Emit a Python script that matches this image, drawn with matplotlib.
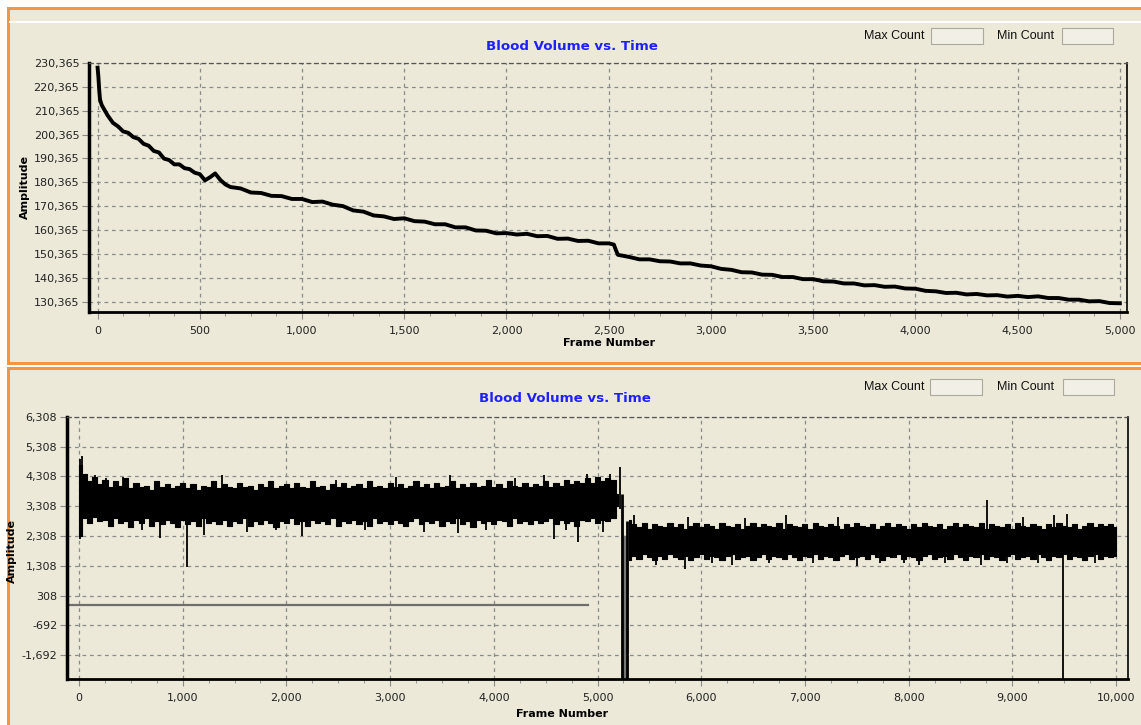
import matplotlib
matplotlib.use("Agg")
import matplotlib.pyplot as plt
from matplotlib.patches import Rectangle
from matplotlib.lines import Line2D
from matplotlib.ticker import MultipleLocator, FuncFormatter

# ---- top panel: slowly decaying blood volume ----
top_frames = [0, 4, 8, 12, 20, 35, 50, 75, 100, 125, 150, 175, 200, 225, 250, 275,
              300, 325, 350, 375, 400, 425, 450, 475, 500, 525, 550, 575, 600, 625,
              650, 700, 750, 800, 850, 900, 950, 1000, 1050, 1100, 1150, 1200, 1250,
              1300, 1350, 1400, 1450, 1500, 1550, 1600, 1650, 1700, 1750, 1800, 1850,
              1900, 1950, 2000, 2050, 2100, 2150, 2200, 2250, 2300, 2350, 2400, 2450,
              2500, 2525, 2535, 2545, 2600, 2650, 2700, 2750, 2800, 2850, 2900, 2950,
              3000, 3050, 3100, 3150, 3200, 3250, 3300, 3350, 3400, 3450, 3500, 3550,
              3600, 3650, 3700, 3750, 3800, 3850, 3900, 3950, 4000, 4050, 4100, 4150,
              4200, 4250, 4300, 4350, 4400, 4450, 4500, 4550, 4600, 4650, 4700, 4750,
              4800, 4850, 4900, 4950, 5000]
top_values = [228400, 224500, 219000, 215000, 212800, 210500, 208300, 205300, 203800,
              201700, 201100, 199300, 198600, 196500, 195700, 193500, 192900, 190300,
              189700, 187900, 187900, 186300, 185900, 184400, 183800, 181200, 182500,
              184100, 181400, 179500, 178400, 177800, 176100, 175900, 174700, 174600,
              173400, 173400, 172100, 172300, 171000, 170400, 168600, 168100, 166500,
              166100, 165000, 165300, 164100, 163900, 162800, 162800, 161500, 161500,
              160200, 160100, 159000, 159100, 158500, 158800, 157800, 157900, 156700,
              156800, 155800, 155900, 154800, 154800, 154300, 152000, 150000, 149100,
              148100, 148100, 147300, 147200, 146400, 146400, 145500, 145200, 144100,
              143700, 142700, 142600, 141700, 141600, 140700, 140700, 139800, 139800,
              138900, 138800, 138000, 138000, 137200, 137300, 136600, 136700, 135900,
              135800, 134900, 134700, 134000, 134100, 133400, 133600, 133000, 133100,
              132500, 132800, 132300, 132600, 131900, 131900, 131200, 131200, 130500,
              130600, 129800, 129700]

# ---- bottom panel: noisy amplitude band, envelopes read every 50 frames ----
band1_frames = list(range(0, 5250, 50))
band1_upper = [4700, 4400, 4150, 4300, 4050, 4200, 3950, 4150, 4000, 4250,
               3900, 4100, 3950, 4000, 3850, 4150, 3950, 4050, 3900, 4000,
               4100, 3900, 4050, 3850, 4000, 3950, 4150, 3900, 4050, 3950,
               3900, 4100, 3950, 4000, 3850, 4050, 3950, 4150, 3900, 4000,
               4050, 3900, 4100, 3950, 3900, 4150, 3950, 4000, 3850, 4050,
               3950, 4100, 3900, 4000, 4050, 3900, 4150, 3950, 4000, 3900,
               4100, 3950, 4050, 3900, 4000, 4150, 3950, 4050, 3900, 4100,
               3950, 4000, 4150, 3900, 4050, 3950, 4100, 3950, 4000, 4200,
               3950, 4050, 3900, 4150, 4000, 3950, 4100, 3950, 4050, 4000,
               4150, 3950, 4100, 4000, 4200, 4050, 4150, 4100, 4250, 4100,
               4300, 4150, 4250, 4200, 3700]
band1_lower = [2300, 2900, 2750, 2950, 2800, 2850, 2650, 2900, 2750, 2800,
               2600, 2850, 2750, 2900, 2650, 2800, 2700, 2850, 2750, 2600,
               2850, 2700, 2800, 2650, 2900, 2750, 2800, 2700, 2850, 2650,
               2800, 2750, 2900, 2650, 2800, 2700, 2850, 2750, 2600, 2800,
               2750, 2900, 2700, 2800, 2650, 2850, 2750, 2800, 2700, 2900,
               2650, 2800, 2750, 2850, 2700, 2800, 2650, 2900, 2750, 2800,
               2700, 2850, 2750, 2650, 2800, 2900, 2700, 2800, 2750, 2850,
               2650, 2800, 2750, 2900, 2700, 2800, 2600, 2850, 2750, 2800,
               2700, 2850, 2800, 2650, 2900, 2750, 2800, 2700, 2850, 2750,
               2800, 2900, 2700, 2850, 2750, 2800, 2650, 2850, 2800, 2900,
               2750, 2850, 2800, 2900, 3300]
band2_frames = list(range(5300, 10050, 50))
band2_upper = [2850, 2700, 2600, 2750, 2550, 2700, 2650, 2600, 2750, 2600,
               2700, 2550, 2650, 2750, 2600, 2700, 2650, 2550, 2750, 2650,
               2600, 2700, 2550, 2650, 2750, 2600, 2700, 2650, 2600, 2750,
               2550, 2700, 2650, 2600, 2700, 2550, 2750, 2650, 2600, 2700,
               2650, 2550, 2700, 2600, 2750, 2650, 2600, 2700, 2550, 2650,
               2750, 2600, 2700, 2650, 2550, 2700, 2600, 2750, 2650, 2600,
               2700, 2550, 2650, 2750, 2600, 2700, 2650, 2600, 2750, 2550,
               2700, 2650, 2600, 2700, 2550, 2750, 2650, 2600, 2700, 2650,
               2550, 2700, 2600, 2750, 2650, 2600, 2700, 2550, 2650, 2750,
               2600, 2700, 2650, 2700, 2600]
band2_lower = [1500, 1650, 1550, 1700, 1600, 1500, 1650, 1550, 1700, 1600,
               1550, 1650, 1500, 1600, 1700, 1550, 1650, 1600, 1500, 1650,
               1700, 1550, 1600, 1650, 1500, 1600, 1700, 1550, 1650, 1600,
               1550, 1700, 1600, 1500, 1650, 1600, 1700, 1550, 1650, 1600,
               1500, 1650, 1700, 1550, 1600, 1650, 1550, 1700, 1600, 1500,
               1650, 1600, 1700, 1550, 1650, 1600, 1500, 1650, 1700, 1550,
               1600, 1650, 1550, 1700, 1600, 1500, 1650, 1600, 1700, 1550,
               1650, 1600, 1500, 1650, 1700, 1550, 1600, 1650, 1550, 1700,
               1600, 1500, 1650, 1600, 1700, 1550, 1650, 1600, 1500, 1650,
               1700, 1550, 1650, 1600, 1650]

# isolated spikes: frame, low, high
spike_frames = [5, 30, 150, 260, 420, 610, 780, 1040, 1210, 1380, 1620, 1900, 2150,
                2480, 2760, 3060, 3330, 3580, 3650, 3920, 4200, 4480, 4580, 4700,
                4812, 4900, 5050, 5120, 5215,
                5350, 5560, 5840, 5870, 6100, 6300, 6420, 6650, 6820, 7080, 7320,
                7500, 7720, 7960, 8100, 8350, 8700, 8753, 8950, 9100, 9250, 9400,
                9490, 9530, 9800]
spike_lows = [2200, 3200, 3300, 3300, 3000, 2500, 2250, 1250, 2350, 3000, 2450, 2500,
              2300, 3000, 2500, 3000, 2450, 3000, 2400, 2500, 3000, 3000, 2200, 2500,
              2100, 3000, 2450, 3000, 3200,
              1900, 1350, 1200, 1800, 1400, 1350, 1800, 1400, 1800, 1400, 1800,
              1300, 1400, 1400, 1350, 1400, 1350, 1800, 1400, 1800, 1400, 1800,
              -2600, 1800, 1400]
spike_highs = [4900, 5000, 4350, 4250, 4300, 3800, 3800, 3800, 3800, 4350, 3800, 3800,
               3800, 4200, 3800, 4300, 3800, 4350, 3800, 3800, 4250, 4350, 3800, 3800,
               3800, 4400, 3800, 4400, 4620,
               3000, 2300, 2400, 2950, 2300, 2400, 2900, 2300, 3000, 2300, 2950,
               2400, 2300, 2300, 2400, 2300, 2400, 3500, 2300, 2950, 2300, 3000,
               2400, 3050, 2300]

# signal drop-out between the two recordings
drop_frames = [5235, 5285]
drop_tops = [3700, 2800]
drop_bottom = -2600

# flat reference trace
ref_frames = [-120, 4905]
ref_values = [0, 0]

BEIGE = '#ece9d8'
ORANGE = '#f7943d'
GRID = '#8a8a8a'
W, H = 1141, 725


def px(x, y):
    return x / W, 1 - y / H


def comma(v, pos):
    return f"{int(round(v)):,}"


def style_axes(ax, xmajor, xminor):
    ax.set_facecolor(BEIGE)
    ax.xaxis.set_major_locator(MultipleLocator(xmajor))
    ax.xaxis.set_minor_locator(MultipleLocator(xminor))
    ax.xaxis.set_major_formatter(FuncFormatter(comma))
    ax.yaxis.set_major_formatter(FuncFormatter(comma))
    ax.grid(True, which='major', color=GRID, linestyle=(0, (3, 3)), linewidth=0.9)
    ax.tick_params(which='major', direction='out', length=5, color=GRID,
                   labelsize=8, labelcolor='#222222', pad=2)
    ax.tick_params(axis='x', which='major', pad=5)
    ax.tick_params(which='minor', direction='out', length=3, color=GRID)
    ax.spines['left'].set_linewidth(2.5)
    ax.spines['bottom'].set_linewidth(2.0)
    ax.spines['right'].set_linewidth(1.2)
    ax.spines['top'].set_linewidth(0.9)
    ax.spines['top'].set_linestyle((0, (3, 3)))
    ax.spines['top'].set_color('#555555')


def panel_header(fig, title_xy, max_text_right, box1, box2, min_text_left, y):
    fig.text(*px(*title_xy), 'Blood Volume vs. Time', ha='center', va='center',
             fontsize=9.6, fontweight='bold', color='#1f1fff')
    fig.text(*px(max_text_right, y), 'Max Count', ha='right', va='center',
             fontsize=9, family='Liberation Sans', color='#111111')
    fig.text(*px(min_text_left, y), 'Min Count', ha='left', va='center',
             fontsize=9, family='Liberation Sans', color='#111111')
    for bx0, bx1 in (box1, box2):
        x0, y0 = px(bx0, y + 8)
        fig.add_artist(Rectangle((x0, y0), (bx1 - bx0) / W, 16 / H,
                                 transform=fig.transFigure, facecolor='#f1efe6',
                                 edgecolor='#aaa99c', linewidth=0.8))


fig = plt.figure(figsize=(W / 100, H / 100), dpi=100, facecolor='white')

# panel frames (behind the axes)
for y_top, y_bot in ((8, 363), (368, 740)):
    x0, y0 = px(8, y_bot)
    fig.add_artist(Rectangle((x0, y0), (1160 - 8) / W, (y_bot - y_top) / H,
                             transform=fig.transFigure, facecolor=BEIGE,
                             edgecolor=ORANGE, linewidth=2.2, zorder=-10))
fig.add_artist(Line2D([10 / W, 1], [1 - 22 / H, 1 - 22 / H], transform=fig.transFigure,
                      color='white', linewidth=1.5, zorder=-5))

panel_header(fig, (572, 46), 925, (931, 983), (1062, 1113), 997, 36)
panel_header(fig, (565, 398), 925, (930, 982), (1063, 1114), 997, 387)

# ---- top chart ----
ax1 = fig.add_axes([89 / W, 1 - 311.7 / H, (1127 - 89) / W, (311.7 - 63) / H])
style_axes(ax1, 500, 125)
ax1.plot(top_frames, top_values, color='black', linewidth=2.8)
ax1.set_xlim(-42, 5035)
ax1.set_ylim(126165, 230365)
ax1.set_yticks(range(130365, 230366, 10000))
ax1.set_xlabel('Frame Number', fontsize=8, fontweight='bold')
ax1.xaxis.set_label_coords(0.501, -0.105)
ax1.set_ylabel('Amplitude', fontsize=8, fontweight='bold')
ax1.yaxis.set_label_coords(-0.057, 0.5)

# ---- bottom chart ----
ax2 = fig.add_axes([67 / W, 1 - 679.3 / H, (1128 - 67) / W, (679.3 - 416.7) / H])
style_axes(ax2, 1000, 250)
ax2.plot(ref_frames, ref_values, color='#6e6e6e', linewidth=1.6)
ax2.fill_between(band1_frames, band1_lower, band1_upper, step='mid', zorder=2,
                 color='black', linewidth=0.8, edgecolor='black')
ax2.fill_between(band2_frames, band2_lower, band2_upper, step='mid', zorder=2,
                 color='black', linewidth=0.8, edgecolor='black')
ax2.vlines(spike_frames, spike_lows, spike_highs, color='black', linewidth=1.3,
           zorder=2)
ax2.fill_between(drop_frames, [drop_bottom] * 2, [2300, 2300], color='#777777',
                 zorder=2)
ax2.vlines(drop_frames, [drop_bottom] * 2, drop_tops, color='black', linewidth=2,
           zorder=3)
ax2.set_xlim(-116, 10116)
ax2.set_ylim(-2500, 6308)
ax2.set_yticks(range(-1692, 6309, 1000))
ax2.set_xlabel('Frame Number', fontsize=8, fontweight='bold')
ax2.xaxis.set_label_coords(0.4665, -0.115)
ax2.set_ylabel('Amplitude', fontsize=8, fontweight='bold')
ax2.yaxis.set_label_coords(-0.047, 0.49)

fig.savefig('out.png', dpi=100, facecolor=fig.get_facecolor())
